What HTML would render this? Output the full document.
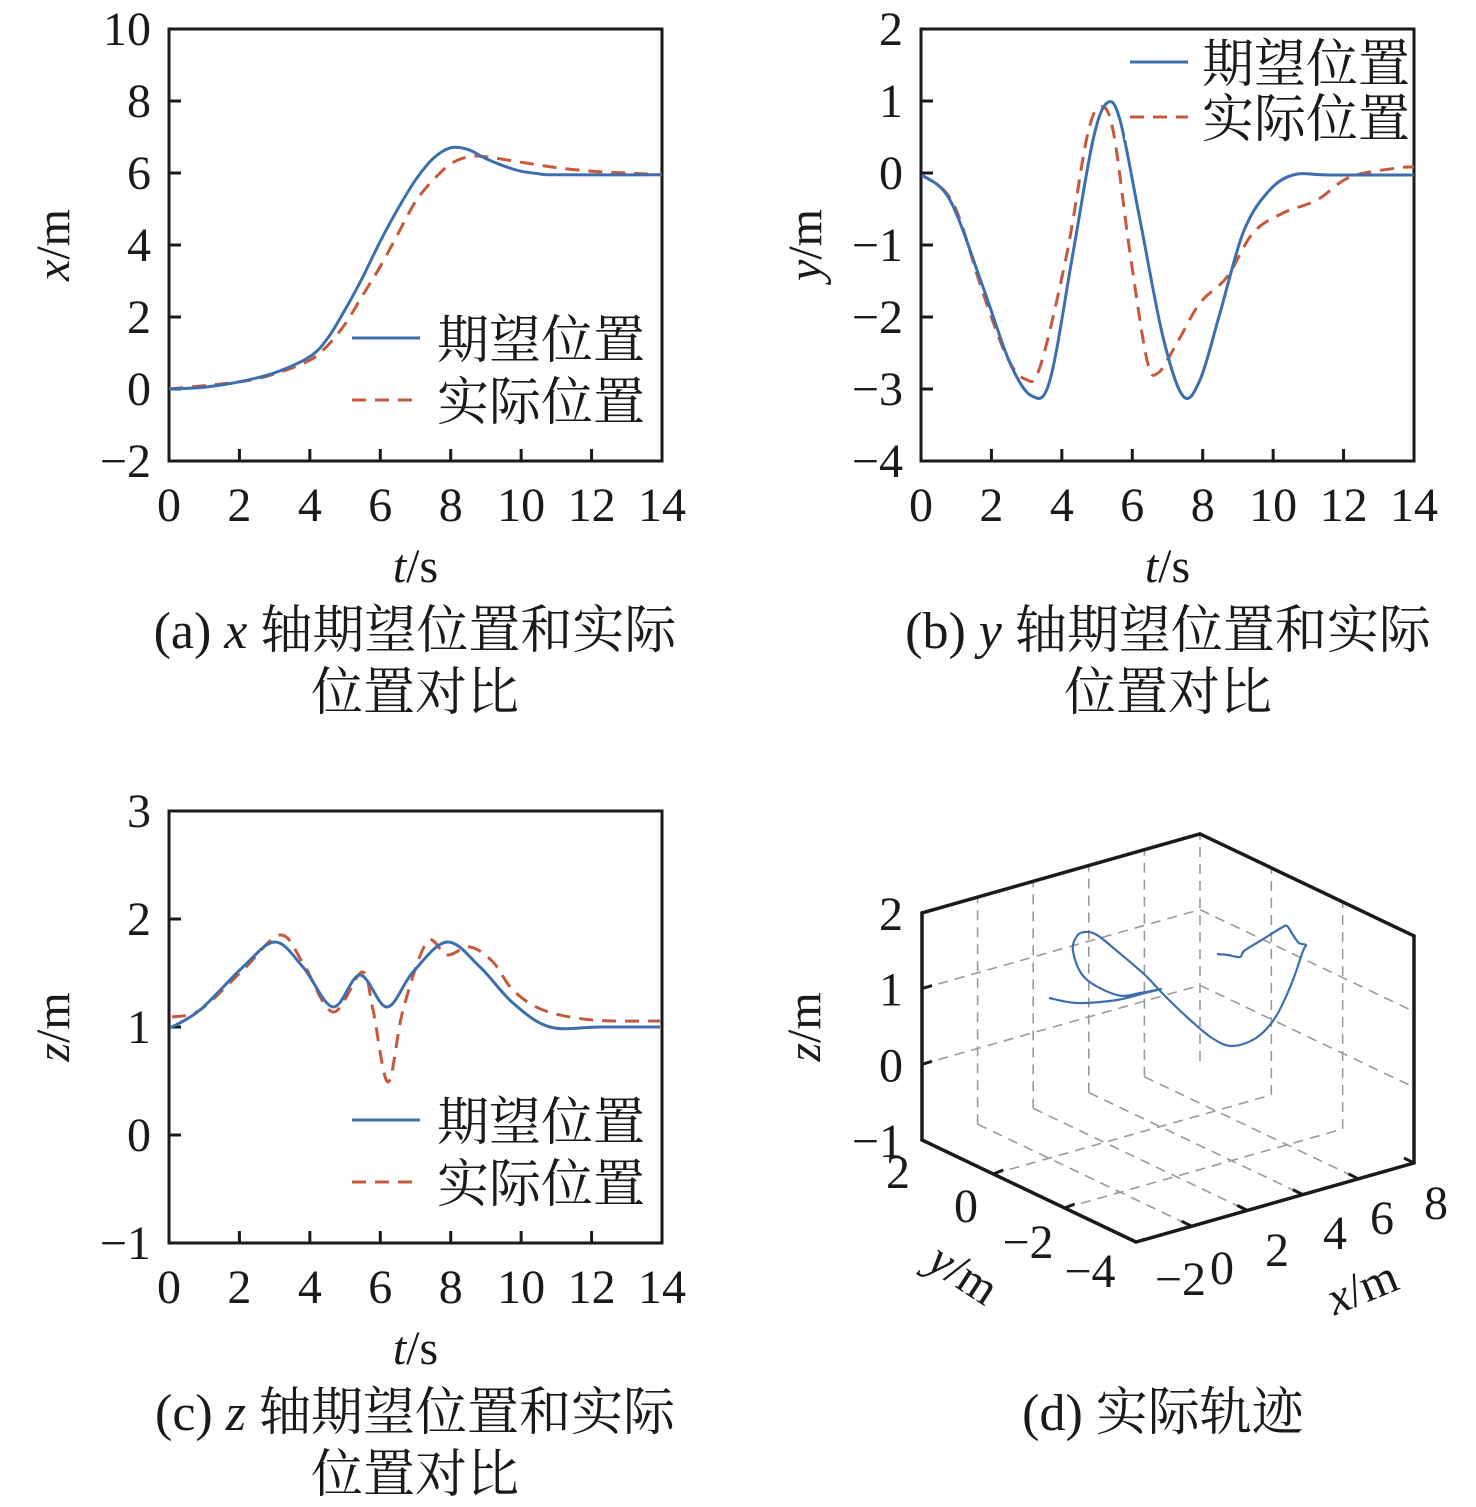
<!DOCTYPE html>
<html><head><meta charset="utf-8"><style>
html,body{margin:0;padding:0;background:#fff;}
svg{display:block;}
text{font-family:"Liberation Serif","Noto Serif CJK SC",serif;fill:#1a1a1a;}
.cj{font-family:"Liberation Serif","Noto Serif CJK SC","Noto Sans CJK SC",serif;}
</style></head><body>
<svg id="s" width="1476" height="1507" viewBox="0 0 1476 1507" xmlns="http://www.w3.org/2000/svg">
<g id="g"></g>
</svg>
<script>
const NS="http://www.w3.org/2000/svg";const G=document.getElementById('g');
function el(t,a,txt){const e=document.createElementNS(NS,t);for(const k in a)e.setAttribute(k,a[k]);if(txt!==undefined)e.textContent=txt;G.appendChild(e);return e;}
function smooth(p){let d="M"+p[0][0]+","+p[0][1];for(let i=0;i<p.length-1;i++){const p0=p[i-1]||p[i],p1=p[i],p2=p[i+1],p3=p[i+2]||p2;const c1=[p1[0]+(p2[0]-p0[0])/6,p1[1]+(p2[1]-p0[1])/6],c2=[p2[0]-(p3[0]-p1[0])/6,p2[1]-(p3[1]-p1[1])/6];d+=" C"+c1[0].toFixed(1)+","+c1[1].toFixed(1)+" "+c2[0].toFixed(1)+","+c2[1].toFixed(1)+" "+p2[0]+","+p2[1];}return d;}
const BLUE="#3d6fae",RED="#c8583a";const FS=48;
function axes(x0,y0,x1,y1,yt,ylabels,xlabel,ylab){
 el('rect',{x:x0,y:y0,width:x1-x0,height:y1-y0,fill:'none',stroke:'#1a1a1a','stroke-width':3});
 const dx=(x1-x0)/14;
 for(let i=0;i<=7;i++){const x=x0+i*2*dx;if(i>0&&i<7)el('line',{x1:x,y1:y1,x2:x,y2:y1-12,stroke:'#1a1a1a','stroke-width':3});
  el('text',{x:x,y:y1+60,'font-size':FS,'text-anchor':'middle'},String(i*2));}
 const n=ylabels.length-1;
 ylabels.forEach((l,i)=>{const y=y1-i*(y1-y0)/n;if(i>0&&i<n)el('line',{x1:x0,y1:y,x2:x0+12,y2:y,stroke:'#1a1a1a','stroke-width':3});
  el('text',{x:x0-18,y:y+16,'font-size':FS,'text-anchor':'end'},l);});
 const t=el('text',{x:(x0+x1)/2,y:y1+121,'font-size':FS,'text-anchor':'middle'});
 t.innerHTML='<tspan font-style="italic">t</tspan>/s';
 const yl=el('text',{x:0,y:0,'font-size':FS,'text-anchor':'middle',transform:'translate('+(x0-100)+','+((y0+y1)/2)+') rotate(-90)'});
 yl.innerHTML='<tspan font-style="italic">'+ylab+'</tspan>/m';
}
function legend(x1,x2,y1,y2,tx){
 el('line',{x1:x1,y1:y1,x2:x2,y2:y1,stroke:BLUE,'stroke-width':3});
 el('line',{x1:x1,y1:y2,x2:x2,y2:y2,stroke:RED,'stroke-width':3,'stroke-dasharray':'14,9'});
 el('text',{x:tx,y:y1+20,'font-size':52,class:'cj'},'期望位置');
 el('text',{x:tx,y:y2+20,'font-size':52,class:'cj'},'实际位置');
}
function line(pts,col,dash){const a={d:smooth(pts),fill:'none',stroke:col,'stroke-width':3};if(dash)a['stroke-dasharray']='14,9';el('path',a);}
function cap(x,y,l,v){el('text',{x:x,y:y,'font-size':52,'text-anchor':'middle',class:'cj'}).innerHTML='('+l+') <tspan font-style="italic">'+v+'</tspan> 轴期望位置和实际';
 el('text',{x:x,y:y+62,'font-size':52,'text-anchor':'middle',class:'cj'},'位置对比');}
// (a)
axes(169,29,662,461,0,['−2','0','2','4','6','8','10'],'t','x');
const ta=t=>169+35.2*t, va=v=>389-36*v;
const ad=[[0,0],[1,0.05],[2,0.2],[3,0.45],[4,0.9],[4.5,1.4],[5,2.2],[5.5,3.1],[6,4.1],[6.5,5.0],[7,5.8],[7.5,6.4],[8,6.7],[8.5,6.65],[9,6.4],[9.5,6.2],[10,6.05],[10.5,5.98],[11,5.95],[14,5.95]];
const aa=[[0,0],[2,0.2],[3,0.42],[4,0.8],[4.5,1.2],[5,1.8],[5.5,2.6],[6,3.4],[6.5,4.3],[7,5.2],[7.5,5.8],[8,6.25],[8.5,6.45],[9,6.45],[10,6.3],[11,6.15],[12,6.05],[13,6.0],[14,5.95]];
line(aa.map(p=>[ta(p[0]),va(p[1])]),RED,true);
line(ad.map(p=>[ta(p[0]),va(p[1])]),BLUE);
legend(352,420,338,400,437);
cap(415,648,'a','x');
// (b)
axes(921,29,1414,461,0,['−4','−3','−2','−1','0','1','2'],'t','y');
const bd=[[922,175],[950,200],[983,287],[1010,363],[1032,396],[1050,380],[1073,253],[1093,140],[1107,103],[1120,120],[1140,220],[1163,337],[1183,396],[1200,380],[1220,313],[1243,233],[1267,193],[1293,175],[1330,175],[1414,175]];
const ba=[[922,175],[953,203],[983,293],[1007,357],[1025,379],[1040,367],[1067,253],[1087,137],[1100,107],[1113,130],[1130,253],[1147,360],[1158,373],[1177,343],[1200,303],[1227,277],[1253,233],[1283,213],[1317,200],[1350,177],[1397,168],[1414,167]];
line(ba,RED,true);line(bd,BLUE);
el('rect',{x:1125,y:40,width:287,height:100,fill:'#fff'});
legend(1130,1188,62,117,1202);
cap(1168,648,'b','y');
// (c)
axes(169,811,662,1243,0,['−1','0','1','2','3'],'t','z');
const cd=[[170,1028],[200,1010],[243,967],[275,942],[303,967],[333,1007],[360,975],[387,1007],[413,972],[447,942],[480,967],[513,1003],[550,1027],[600,1027],[660,1027]];
const ca=[[172,1017],[200,1010],[243,970],[280,935],[303,963],[333,1012],[362,972],[373,1010],[388,1082],[403,1010],[427,942],[447,955],[470,947],[493,962],[513,990],[543,1010],[593,1020],[660,1021]];
line(ca,RED,true);line(cd,BLUE);
legend(352,420,1120,1182,437);
cap(415,1430,'c','z');
// (d) 3D
const B=[1200,1061];const Z=75.7;
function pr(x,y,z){
 const px=B[0]+(2-y)*(214/6)+(8-x)*(-278/10);
 const py=B[1]+(2-y)*(102/6)+(8-x)*(79/10)-(z+1)*Z;
 return [px,py];}
function gl(a,b){el('line',{x1:a[0],y1:a[1],x2:b[0],y2:b[1],stroke:'#9a9a9a','stroke-width':1.6,'stroke-dasharray':'10,7'});}
for(const x of [0,2,4,6])gl(pr(x,2,-1),pr(x,-4,-1));
for(const y of [0,-2])gl(pr(-2,y,-1),pr(8,y,-1));
for(const x of [0,2,4,6,8])gl(pr(x,2,-1),pr(x,2,2));
for(const z of [0,1])gl(pr(-2,2,z),pr(8,2,z));
for(const y of [0,-2])gl(pr(8,y,-1),pr(8,y,2));
for(const z of [0,1])gl(pr(8,2,z),pr(8,-4,z));
function bl(a,b){el('line',{x1:a[0],y1:a[1],x2:b[0],y2:b[1],stroke:'#1a1a1a','stroke-width':3.5,'stroke-linecap':'round'});}
bl(pr(-2,2,2),pr(8,2,2));bl(pr(8,2,2),pr(8,-4,2));
bl(pr(-2,2,-1),pr(-2,2,2));bl(pr(8,-4,-1),pr(8,-4,2));
bl(pr(-2,2,-1),pr(-2,-4,-1));bl(pr(-2,-4,-1),pr(8,-4,-1));
function tk(a,dx,dy){el('line',{x1:a[0],y1:a[1],x2:a[0]+dx,y2:a[1]+dy,stroke:'#1a1a1a','stroke-width':3});}
for(const z of [0,1])tk(pr(-2,2,z),10,-3);
for(const x of [0,2,4,6])tk(pr(x,-4,-1),-10,-5);
for(const y of [0,-2])tk(pr(-2,y,-1),10,-4);
tk(pr(8,-4,-1),-10,-5);
['2','1','0','−1'].forEach((l,i)=>el('text',{x:903,y:930+i*75.7,'font-size':FS,'text-anchor':'end'},l));
el('text',{x:1206,y:1295,'font-size':FS,'text-anchor':'end'},'−2');
[['0',1222,1284],['2',1277,1266],['4',1335,1249],['6',1382,1234],['8',1436,1219]].forEach(a=>el('text',{x:a[1],y:a[2],'font-size':FS,'text-anchor':'middle'},a[0]));
[['2',898,1188],['0',966,1222],['−2',1028,1258],['−4',1090,1287]].forEach(a=>el('text',{x:a[1],y:a[2],'font-size':FS,'text-anchor':'middle'},a[0]));
el('text',{x:0,y:0,'font-size':FS,'text-anchor':'middle',transform:'translate(955,1287) rotate(33)'}).innerHTML='<tspan font-style="italic">y</tspan>/m';
el('text',{x:0,y:0,'font-size':FS,'text-anchor':'middle',transform:'translate(1368,1302) rotate(-22)'}).innerHTML='<tspan font-style="italic">x</tspan>/m';
el('text',{x:0,y:0,'font-size':FS,'text-anchor':'middle',transform:'translate(820,1027) rotate(-90)'}).innerHTML='<tspan font-style="italic">z</tspan>/m';
const tr=[[1049,998],[1077,1003],[1117,1000],[1145,993],[1161,989],[1140,993],[1117,995],[1085,978],[1073,951],[1077,936],[1085,932],[1097,935],[1117,951],[1145,975],[1164,995],[1188,1018],[1212,1038],[1232,1046],[1256,1038],[1275,1018],[1291,985],[1303,951],[1306,945],[1299,943],[1293,935],[1287,926],[1281,928],[1260,941],[1244,951],[1240,957],[1228,955],[1217,954]];
el('path',{d:smooth(tr),fill:'none',stroke:BLUE,'stroke-width':2.2});
el('text',{x:1163,y:1430,'font-size':52,'text-anchor':'middle',class:'cj'},'(d) 实际轨迹');
</script>
</body></html>
